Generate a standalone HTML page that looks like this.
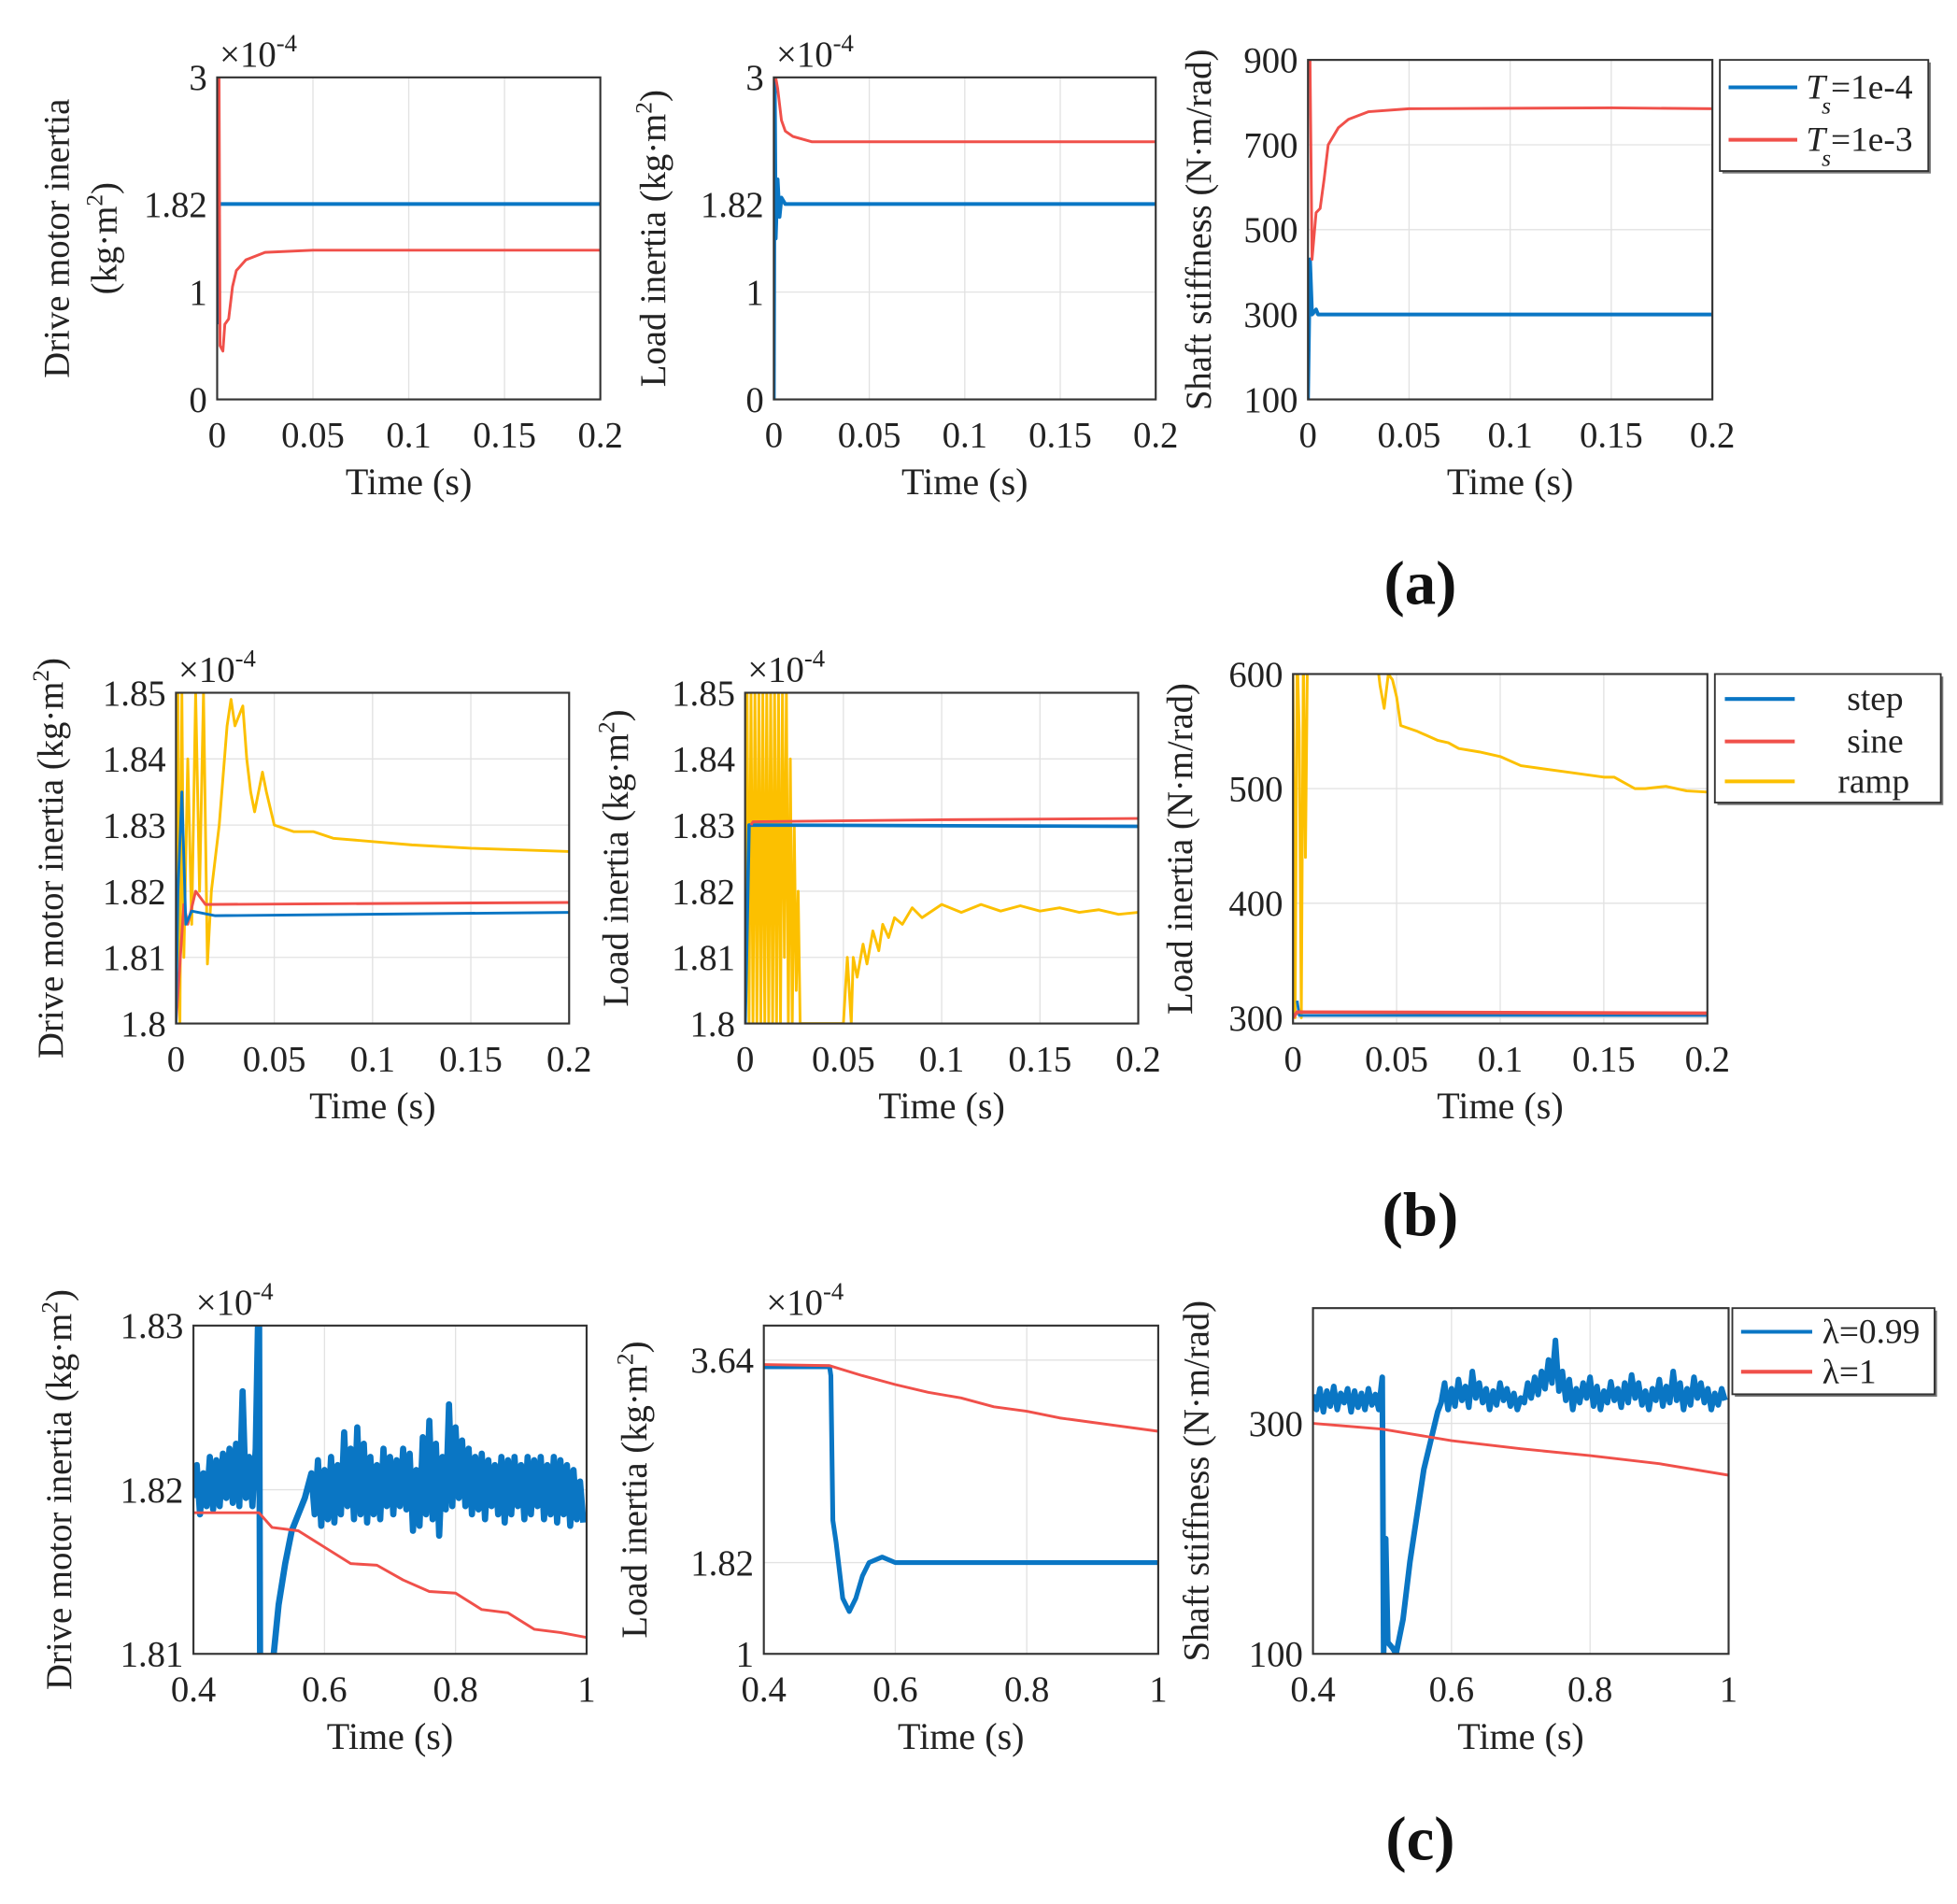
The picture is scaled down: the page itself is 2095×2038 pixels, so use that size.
<!DOCTYPE html>
<html><head><meta charset="utf-8"><style>
html,body{margin:0;padding:0;background:#fff;}
svg{display:block;font-family:"Liberation Serif",serif;}
</style></head><body>
<svg id="fig" width="2095" height="2038" viewBox="0 0 1568 1525.4" preserveAspectRatio="none" xmlns="http://www.w3.org/2000/svg"></svg>
<script>
// ---------- data ----------
const xTicksA = [0, 0.05, 0.1, 0.15, 0.2];
const xTickLabelsA = ["0", "0.05", "0.1", "0.15", "0.2"];
const xTicksC = [0.4, 0.6, 0.8, 1];
const xTickLabelsC = ["0.4", "0.6", "0.8", "1"];

const a1YTicks = [0, 1, 1.82, 3];
const a1YLabels = ["0", "1", "1.82", "3"];
const a1BlueT = [0, 0, 0.0005, 0.2];
const a1BlueV = [0.7, 3, 1.82, 1.82];
const a1RedT = [0, 0.001, 0.0015, 0.003, 0.004, 0.006, 0.008, 0.01, 0.015, 0.025, 0.05, 0.2];
const a1RedV = [3, 3, 0.5, 0.45, 0.7, 0.75, 1.05, 1.2, 1.3, 1.37, 1.39, 1.39];

const a2YTicks = [0, 1, 1.82, 3];
const a2YLabels = ["0", "1", "1.82", "3"];
const a2BlueT = [0, 0.0005, 0.001, 0.002, 0.003, 0.004, 0.006, 0.2];
const a2BlueV = [0, 3, 1.5, 2.05, 1.7, 1.88, 1.82, 1.82];
const a2RedT = [0.001, 0.002, 0.004, 0.006, 0.01, 0.02, 0.2];
const a2RedV = [3, 2.9, 2.6, 2.5, 2.45, 2.4, 2.4];

const a3YTicks = [100, 300, 500, 700, 900];
const a3YLabels = ["100", "300", "500", "700", "900"];
const a3BlueT = [0, 0.001, 0.002, 0.004, 0.005, 0.2];
const a3BlueV = [100, 430, 300, 312, 300, 300];
const a3RedT = [0, 0.001, 0.002, 0.004, 0.006, 0.008, 0.01, 0.015, 0.02, 0.03, 0.05, 0.15, 0.2];
const a3RedV = [900, 900, 430, 540, 550, 620, 700, 740, 760, 778, 785, 787, 785];

const b1YTicks = [1.8, 1.81, 1.82, 1.83, 1.84, 1.85];
const b1YLabels = ["1.8", "1.81", "1.82", "1.83", "1.84", "1.85"];
const b1BlueT = [0, 0.001, 0.003, 0.005, 0.008, 0.02, 0.2];
const b1BlueV = [1.8, 1.82, 1.835, 1.815, 1.817, 1.8163, 1.8168];
const b1RedT = [0, 0.004, 0.006, 0.01, 0.015, 0.2];
const b1RedV = [1.8, 1.818, 1.815, 1.82, 1.818, 1.8183];
const b1YelT = [0, 0.001, 0.002, 0.003, 0.004, 0.006, 0.008, 0.01, 0.012, 0.014, 0.016, 0.018, 0.022, 0.026, 0.028, 0.03, 0.034, 0.036, 0.038, 0.04, 0.044, 0.046, 0.05, 0.06, 0.07, 0.08, 0.1, 0.12, 0.15, 0.2];
const b1YelV = [1.8, 1.85, 1.8, 1.85, 1.81, 1.84, 1.815, 1.85, 1.82, 1.85, 1.809, 1.82, 1.83, 1.845, 1.849, 1.845, 1.848, 1.84, 1.835, 1.832, 1.838, 1.835, 1.83, 1.829, 1.829, 1.828, 1.8275, 1.827, 1.8265, 1.826];

const b2YTicks = [1.8, 1.81, 1.82, 1.83, 1.84, 1.85];
const b2YLabels = ["1.8", "1.81", "1.82", "1.83", "1.84", "1.85"];
const b2BlueT = [0, 0.002, 0.2];
const b2BlueV = [1.8, 1.83, 1.8298];
const b2RedT = [0.003, 0.004, 0.1, 0.2];
const b2RedV = [1.83, 1.8305, 1.8308, 1.831];
const b2YelT = [0,0.001,0.002,0.003,0.004,0.005,0.006,0.007,0.008,0.009,0.01,0.011,0.012,0.013,0.014,0.015,0.016,0.017,0.018,0.019,0.02,0.021,0.022,0.023,0.024,0.025,0.026,0.027,0.028,0.03,0.05,0.052,0.054,0.055,0.057,0.06,0.062,0.065,0.068,0.07,0.073,0.076,0.08,0.085,0.09,0.1,0.11,0.12,0.13,0.14,0.15,0.16,0.17,0.18,0.19,0.2];
const b2YelV = [1.8,1.85,1.8,1.85,1.8,1.85,1.8,1.85,1.8,1.85,1.8,1.85,1.8,1.85,1.8,1.85,1.8,1.85,1.8,1.85,1.81,1.85,1.8,1.84,1.8,1.83,1.805,1.82,1.8,1.8,1.8,1.81,1.8,1.81,1.807,1.812,1.809,1.814,1.811,1.815,1.813,1.816,1.815,1.8175,1.816,1.818,1.8168,1.818,1.817,1.8178,1.817,1.8175,1.8168,1.8172,1.8165,1.8168];

const b3YTicks = [300, 400, 500, 600];
const b3YLabels = ["300", "400", "500", "600"];
const b3BlueT = [0.002, 0.003, 0.2];
const b3BlueV = [315, 302, 302];
const b3RedT = [0, 0.002, 0.2];
const b3RedV = [300, 305, 304];
const b3YelT = [0, 0.001, 0.002, 0.003, 0.004, 0.005, 0.006, 0.007, 0.008, 0.04, 0.042, 0.044, 0.046, 0.048, 0.05, 0.052, 0.06, 0.07, 0.075, 0.08, 0.09, 0.1, 0.11, 0.13, 0.15, 0.155, 0.165, 0.17, 0.18, 0.19, 0.2];
const b3YelV = [600, 300, 620, 550, 300, 620, 440, 620, 620, 620, 590, 570, 600, 595, 580, 555, 550, 542, 540, 535, 532, 528, 520, 515, 510, 510, 500, 500, 502, 498, 497];

const c1YTicks = [1.81, 1.82, 1.83];
const c1YLabels = ["1.81", "1.82", "1.83"];
const c1RedT = [0.4, 0.5, 0.52, 0.56, 0.6, 0.64, 0.68, 0.72, 0.76, 0.8, 0.84, 0.88, 0.92, 0.96, 1];
const c1RedV = [1.8186, 1.8186, 1.8177, 1.8175, 1.8165, 1.8155, 1.8154, 1.8145, 1.8138, 1.8137, 1.8127, 1.8125, 1.8115, 1.8113, 1.811];
const c1BluePreStart = 0.4, c1BlueStep = 0.005;
const c1BluePre = [1.8195,1.8215,1.8185,1.821,1.819,1.822,1.8188,1.8218,1.819,1.8222,1.8195,1.8225,1.8192,1.8228,1.819,1.826,1.8195,1.822,1.819,1.8225,1.8335];
const c1BlueMidT = [0.502, 0.51, 0.52, 0.53, 0.54, 0.55, 0.56, 0.57, 0.58];
const c1BlueMidV = [1.805, 1.805, 1.809, 1.813, 1.8155, 1.8175, 1.8185, 1.8195, 1.821];
const c1BluePostStart = 0.585;
const c1BluePost = [1.8185,1.8218,1.8178,1.8212,1.8182,1.822,1.818,1.8215,1.8185,1.8235,1.819,1.8225,1.8182,1.8238,1.8185,1.8228,1.818,1.822,1.8185,1.8215,1.8182,1.8225,1.819,1.822,1.8185,1.8218,1.819,1.8225,1.8188,1.8222,1.8175,1.8212,1.8178,1.8232,1.8185,1.8242,1.8182,1.8228,1.8172,1.822,1.8188,1.8252,1.819,1.8238,1.8195,1.823,1.819,1.8225,1.8185,1.822,1.8188,1.8222,1.8182,1.8218,1.819,1.8215,1.8185,1.822,1.818,1.8218,1.8185,1.822,1.819,1.8215,1.8182,1.822,1.8185,1.8218,1.819,1.822,1.8182,1.8215,1.8185,1.822,1.818,1.8218,1.8185,1.8215,1.8178,1.8212,1.8182,1.8205,1.818];

const c2YTicks = [1, 1.82, 3.64];
const c2YLabels = ["1", "1.82", "3.64"];
const c2BlueT = [0.4, 0.5, 0.502, 0.505, 0.51, 0.52, 0.53, 0.54, 0.55, 0.56, 0.58, 0.6, 1];
const c2BlueV = [3.58, 3.58, 3.5, 2.2, 2.0, 1.5, 1.38, 1.5, 1.7, 1.82, 1.87, 1.82, 1.82];
const c2RedT = [0.4, 0.5, 0.55, 0.6, 0.65, 0.7, 0.75, 0.8, 0.85, 0.9, 1];
const c2RedV = [3.6, 3.59, 3.5, 3.42, 3.35, 3.3, 3.22, 3.18, 3.12, 3.08, 3.0];

const c3YTicks = [100, 300];
const c3YLabels = ["100", "300"];
const c3RedT = [0.4, 0.5, 0.6, 0.7, 0.8, 0.9, 1];
const c3RedV = [300, 295, 285, 278, 272, 265, 255];
const c3BluePre = [325,312,330,310,328,315,332,312,326,318,330,310,328,314,326,312,330,316,325,312,340];
const c3BlueMidT = [0.502, 0.505, 0.508, 0.515, 0.52, 0.53, 0.54, 0.55, 0.56, 0.57, 0.58];
const c3BlueMidV = [100, 200, 110, 105, 100, 130, 180, 220, 260, 285, 310];
const c3BluePost = [318,335,312,330,315,338,320,332,314,345,322,335,318,330,312,328,316,335,320,330,315,326,312,322,318,335,322,340,325,345,330,355,335,372,328,345,320,338,312,330,318,335,322,340,315,332,312,328,318,336,320,330,314,335,318,342,322,335,316,328,312,330,320,338,315,332,318,345,320,335,312,330,316,340,322,335,318,330,312,326,316,330,320];

// ---------- rendering ----------
const NS = "http://www.w3.org/2000/svg";
const svg = document.getElementById("fig");
const BLUE = "#0a76c4", RED = "#f0504a", YEL = "#fcc000";
let clipId = 0;

function mk(tag, attrs, parent) {
  const e = document.createElementNS(NS, tag);
  for (const k in attrs) e.setAttribute(k, attrs[k]);
  (parent || svg).appendChild(e);
  return e;
}
function zip(ts, vs) { return ts.map((t, i) => [t, vs[i]]); }
function seq(start, step, vs) { return vs.map((v, i) => [start + i * step, v]); }

function plot(name, box, xd, yd, xt, xl, yt, yl, series, ylab, ylab2, ylabX, expo) {
  const g = mk("g", {});
  
  
  const [x0, y0, x1, y1] = box;
  const sx = v => x0 + (v - xd[0]) / (xd[1] - xd[0]) * (x1 - x0);
  const sy = v => y1 - (v - yd[0]) / (yd[1] - yd[0]) * (y1 - y0);
  xt.forEach(v => { const l = mk("line", {x1: sx(v), x2: sx(v), y1: y0, y2: y1, stroke: "#e2e2e2", "stroke-width": 1}, g);   });
  yt.forEach(v => { const l = mk("line", {x1: x0, x2: x1, y1: sy(v), y2: sy(v), stroke: "#e2e2e2", "stroke-width": 1}, g);   });
  clipId++;
  const cp = mk("clipPath", {id: "cp" + clipId}, g);
  mk("rect", {x: x0, y: y0, width: x1 - x0, height: y1 - y0}, cp);
  const sg = mk("g", {"clip-path": "url(#cp" + clipId + ")"}, g);
  series.forEach(s => {
    const d = s.pts.map((p, i) => (i ? "L" : "M") + sx(p[0]).toFixed(2) + " " + sy(p[1]).toFixed(2)).join("");
    const p = mk("path", {d: d, fill: "none", stroke: s.c, "stroke-width": s.w || 2.2, "stroke-linejoin": "round"}, sg);
    
    
  });
  const ax = mk("rect", {x: x0, y: y0, width: x1 - x0, height: y1 - y0, fill: "none", stroke: "#333", "stroke-width": 1.6}, g);
  
  
  xt.forEach((v, i) => {
    const t = mk("text", {x: sx(v), y: y1 + 38, "font-size": 29, "text-anchor": "middle", fill: "#222"}, g);
    t.textContent = xl[i];
    
    
  });
  yt.forEach((v, i) => {
    const t = mk("text", {x: x0 - 8, y: sy(v) + 10, "font-size": 29, "text-anchor": "end", fill: "#222"}, g);
    t.textContent = yl[i];
    
    
  });
  const xtT = mk("text", {x: (x0 + x1) / 2, y: y1 + 76, "font-size": 30, "text-anchor": "middle", fill: "#222"}, g);
  xtT.textContent = "Time (s)";
  
  
  const cy = (y0 + y1) / 2;
  function ytitle(txt, x) {
    const t = mk("text", {x: x, y: cy, "font-size": 29, "text-anchor": "middle", fill: "#222", transform: "rotate(-90 " + x + " " + cy + ")"}, g);
    const parts = txt.split("^2");
    t.appendChild(document.createTextNode(parts[0]));
    if (parts.length > 1) {
      const s = mk("tspan", {dy: -11, "font-size": 19}, t); s.textContent = "2";
      const r = mk("tspan", {dy: 11}, t); r.textContent = parts[1];
    }
    
    
  }
  ytitle(ylab, ylabX);
  if (ylab2) ytitle(ylab2, ylabX + 38);
  if (expo) {
    const t = mk("text", {x: x0 + 2, y: y0 - 9, "font-size": 29, fill: "#222"}, g);
    t.textContent = "\u00d710";
    const s = mk("tspan", {dy: -12, "font-size": 20}, t); s.textContent = "-4";
    
    
  }
}

function legend(name, box, items) {
  const g = mk("g", {});
  
  
  const [x0, y0, x1, y1] = box;
  mk("rect", {x: x0 + 2, y: y0 + 2, width: x1 - x0, height: y1 - y0, fill: "#777"}, g);
  const r = mk("rect", {x: x0, y: y0, width: x1 - x0, height: y1 - y0, fill: "#fff", stroke: "#333", "stroke-width": 1.4}, g);
  
  
  items.forEach(it => {
    const e = mk("g", {}, g);
    
    
    mk("line", {x1: it.lx0, x2: it.lx1, y1: it.y, y2: it.y, stroke: it.c, "stroke-width": 3}, e);
    const t = mk("text", {x: it.tx, y: it.y + 9, "font-size": 28, fill: "#222", "text-anchor": it.anchor || "start"}, e);
    if (it.ts) {
      const a = mk("tspan", {"font-style": "italic"}, t); a.textContent = "T";
      const b = mk("tspan", {"font-style": "italic", "font-size": 19, dy: 12, dx: -3}, t); b.textContent = "s";
      const c = mk("tspan", {dy: -12}, t); c.textContent = it.label;
    } else t.textContent = it.label;
  });
}

function label(txt, x, y, name) {
  const t = mk("text", {x: x, y: y, "font-size": 50, "font-weight": "bold", "text-anchor": "middle", fill: "#111"});
  t.textContent = txt;
  
  
}

plot("plot-a-drive-motor", [174, 62, 481, 320], [0, 0.2], [0, 3], xTicksA, xTickLabelsA, a1YTicks, a1YLabels,
  [{n: "series-ts-1e-4", c: BLUE, pts: zip(a1BlueT, a1BlueV), w: 3}, {n: "series-ts-1e-3", c: RED, pts: zip(a1RedT, a1RedV)}],
  "Drive motor inertia", "(kg\u00b7m^2)", 55, true);
plot("plot-a-load-inertia", [620, 62, 926, 320], [0, 0.2], [0, 3], xTicksA, xTickLabelsA, a2YTicks, a2YLabels,
  [{n: "series-ts-1e-4", c: BLUE, pts: zip(a2BlueT, a2BlueV), w: 3}, {n: "series-ts-1e-3", c: RED, pts: zip(a2RedT, a2RedV)}],
  "Load inertia (kg\u00b7m^2)", null, 533, true);
plot("plot-a-shaft-stiffness", [1048, 48, 1372, 320], [0, 0.2], [100, 900], xTicksA, xTickLabelsA, a3YTicks, a3YLabels,
  [{n: "series-ts-1e-4", c: BLUE, pts: zip(a3BlueT, a3BlueV), w: 3}, {n: "series-ts-1e-3", c: RED, pts: zip(a3RedT, a3RedV)}],
  "Shaft stiffness (N\u00b7m/rad)", null, 970, false);
legend("legend-a", [1378, 48, 1545, 137], [
  {c: BLUE, lx0: 1385, lx1: 1440, y: 70, tx: 1447, label: "=1e-4", ts: true},
  {c: RED, lx0: 1385, lx1: 1440, y: 112, tx: 1447, label: "=1e-3", ts: true}]);
label("(a)", 1138, 484, "panel-label-a");

plot("plot-b-drive-motor", [141, 555, 456, 820], [0, 0.2], [1.8, 1.85], xTicksA, xTickLabelsA, b1YTicks, b1YLabels,
  [{n: "series-ramp", c: YEL, pts: zip(b1YelT, b1YelV)}, {n: "series-sine", c: RED, pts: zip(b1RedT, b1RedV)}, {n: "series-step", c: BLUE, pts: zip(b1BlueT, b1BlueV)}],
  "Drive motor inertia (kg\u00b7m^2)", null, 50, true);
plot("plot-b-load-inertia", [597, 555, 912, 820], [0, 0.2], [1.8, 1.85], xTicksA, xTickLabelsA, b2YTicks, b2YLabels,
  [{n: "series-ramp", c: YEL, pts: zip(b2YelT, b2YelV)}, {n: "series-step", c: BLUE, pts: zip(b2BlueT, b2BlueV), w: 2.8}, {n: "series-sine", c: RED, pts: zip(b2RedT, b2RedV)}],
  "Load inertia (kg\u00b7m^2)", null, 503, true);
plot("plot-b-stiffness", [1036, 540, 1368, 820], [0, 0.2], [295, 600], xTicksA, xTickLabelsA, b3YTicks, b3YLabels,
  [{n: "series-ramp", c: YEL, pts: zip(b3YelT, b3YelV)}, {n: "series-step", c: BLUE, pts: zip(b3BlueT, b3BlueV)}, {n: "series-sine", c: RED, pts: zip(b3RedT, b3RedV), w: 2.8}],
  "Load inertia (N\u00b7m/rad)", null, 955, false);
legend("legend-b", [1374, 540, 1555, 643], [
  {c: BLUE, lx0: 1382, lx1: 1438, y: 560, tx: 1525, label: "step", anchor: "end"},
  {c: RED, lx0: 1382, lx1: 1438, y: 594, tx: 1525, label: "sine", anchor: "end"},
  {c: YEL, lx0: 1382, lx1: 1438, y: 626, tx: 1530, label: "ramp", anchor: "end"}]);
label("(b)", 1138, 990, "panel-label-b");

const c1Blue = seq(c1BluePreStart, c1BlueStep, c1BluePre).concat(zip(c1BlueMidT, c1BlueMidV), seq(c1BluePostStart, c1BlueStep, c1BluePost));
const c3Blue = seq(c1BluePreStart, c1BlueStep, c3BluePre).concat(zip(c3BlueMidT, c3BlueMidV), seq(c1BluePostStart, c1BlueStep, c3BluePost));
plot("plot-c-drive-motor", [155, 1062, 470, 1325], [0.4, 1], [1.81, 1.83], xTicksC, xTickLabelsC, c1YTicks, c1YLabels,
  [{n: "series-lambda-0.99", c: BLUE, pts: c1Blue, w: 5}, {n: "series-lambda-1", c: RED, pts: zip(c1RedT, c1RedV)}],
  "Drive motor inertia (kg\u00b7m^2)", null, 57, true);
plot("plot-c-load-inertia", [612, 1062, 928, 1325], [0.4, 1], [1, 3.95], xTicksC, xTickLabelsC, c2YTicks, c2YLabels,
  [{n: "series-lambda-0.99", c: BLUE, pts: zip(c2BlueT, c2BlueV), w: 3.8}, {n: "series-lambda-1", c: RED, pts: zip(c2RedT, c2RedV)}],
  "Load inertia (kg\u00b7m^2)", null, 518, true);
plot("plot-c-shaft-stiffness", [1052, 1048, 1385, 1325], [0.4, 1], [100, 400], xTicksC, xTickLabelsC, c3YTicks, c3YLabels,
  [{n: "series-lambda-0.99", c: BLUE, pts: c3Blue, w: 4.5}, {n: "series-lambda-1", c: RED, pts: zip(c3RedT, c3RedV)}],
  "Shaft stiffness (N\u00b7m/rad)", null, 968, false);
legend("legend-c", [1388, 1048, 1550, 1117], [
  {c: BLUE, lx0: 1395, lx1: 1452, y: 1067, tx: 1460, label: "\u03bb=0.99"},
  {c: RED, lx0: 1395, lx1: 1452, y: 1099, tx: 1460, label: "\u03bb=1"}]);
label("(c)", 1138, 1490, "panel-label-c");
</script>
</body></html>
